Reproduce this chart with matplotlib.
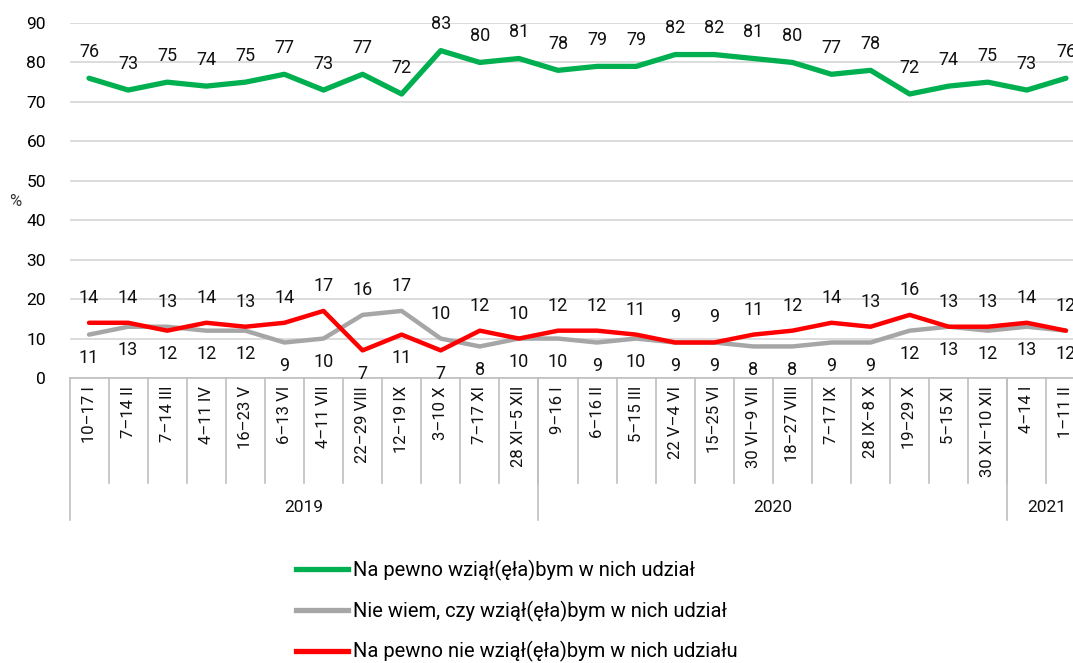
import matplotlib
matplotlib.use("Agg")
import matplotlib.pyplot as plt
from matplotlib.lines import Line2D
import matplotlib.transforms as mtransforms

categories = ["10–17 I", "7–14 II", "7–14 III", "4–11 IV", "16–23 V", "6–13 VI",
              "4–11 VII", "22–29 VIII", "12–19 IX", "3–10 X", "7–17 XI", "28 XI–5 XII",
              "9–16 I", "6–16 II", "5–15 III", "22 V–4 VI", "15–25 VI", "30 VI–9 VII",
              "18–27 VIII", "7–17 IX", "28 IX–8 X", "19–29 X", "5–15 XI", "30 XI–10 XII",
              "4–14 I", "1–11 II"]
years = ["2019", "2020", "2021"]
year_counts = [12, 12, 2]

yes_vals = [76, 73, 75, 74, 75, 77, 73, 77, 72, 83, 80, 81,
            78, 79, 79, 82, 82, 81, 80, 77, 78, 72, 74, 75, 73, 76]
dont_know = [11, 13, 13, 12, 12, 9, 10, 16, 17, 10, 8, 10,
             10, 9, 10, 9, 9, 8, 8, 9, 9, 12, 13, 12, 13, 12]
no_vals = [14, 14, 12, 14, 13, 14, 17, 7, 11, 7, 12, 10,
           12, 12, 11, 9, 9, 11, 12, 14, 13, 16, 13, 13, 14, 12]

labels = ["Na pewno wziął(ęła)bym w nich udział",
          "Nie wiem, czy wziął(ęła)bym w nich udział",
          "Na pewno nie wziął(ęła)bym w nich udziału"]

GREEN = "#00b050"
GREY = "#a6a6a6"
RED = "#ff0000"
COND = ["Roboto"]

W, H = 1073, 663
fig = plt.figure(figsize=(W / 100, H / 100), dpi=100)
left_px, right_px, top_px, bot_px = 69.5, 1085.5, 23, 378
ax = fig.add_axes([left_px / W, 1 - bot_px / H, (right_px - left_px) / W, (bot_px - top_px) / H])

x = list(range(len(categories)))
ax.plot(x, yes_vals, color=GREEN, lw=3.8, solid_capstyle="round", zorder=3)
ax.plot(x, dont_know, color=GREY, lw=3.2, solid_capstyle="round", zorder=3)
ax.plot(x, no_vals, color=RED, lw=3.2, solid_capstyle="round", zorder=4)

ax.set_xlim(-0.5, len(categories) - 0.5)
ax.set_ylim(0, 90)
ax.set_yticks(range(0, 91, 10))
ax.yaxis.grid(True, color="#d9d9d9", lw=1.3)
ax.set_axisbelow(True)
for s in ["left", "right", "top"]:
    ax.spines[s].set_visible(False)
ax.spines["bottom"].set_color("#bfbfbf")
ax.spines["bottom"].set_linewidth(1.2)
ax.tick_params(axis="y", length=0, pad=17, labelsize=12.5)
ax.tick_params(axis="x", length=0, labelbottom=False)
for t in ax.get_yticklabels():
    t.set_fontfamily(COND)

lab_kw = dict(fontsize=13, family=COND, ha="center", va="center", clip_on=False,
              color="#111111")
for i in x:
    ax.annotate(str(yes_vals[i]), (i, yes_vals[i]), xytext=(0, 19), textcoords="offset points",
                **lab_kw)
    hi = max(dont_know[i], no_vals[i])
    lo = min(dont_know[i], no_vals[i])
    ax.annotate(str(hi), (i, hi), xytext=(0, 18), textcoords="offset points", **lab_kw)
    ax.annotate(str(lo), (i, lo), xytext=(0, -17), textcoords="offset points", **lab_kw)

trans = mtransforms.blended_transform_factory(ax.transData, ax.transAxes)
axh = bot_px - top_px
y_inner = -(483 - bot_px) / axh
y_outer = -(520 - bot_px) / axh
y_cat = -(386 - bot_px) / axh
y_year = -(508 - bot_px) / axh

for i, c in enumerate(categories):
    ax.text(i, y_cat, c, transform=trans, rotation=90, ha="center", va="top",
            fontsize=12, family=COND, color="#111111")
for i in range(1, len(categories)):
    ax.add_line(Line2D([i - 0.5, i - 0.5], [0, y_inner], transform=trans,
                       color="#bfbfbf", lw=1.2, clip_on=False))
start = 0
bounds = [-0.5]
for yname, n in zip(years, year_counts):
    ax.text(start + (n - 1) / 2, y_year, yname, transform=trans, ha="center",
            va="center", fontsize=12.5, family=COND, color="#111111")
    start += n
    bounds.append(start - 0.5)
for b in bounds:
    ax.add_line(Line2D([b, b], [0, y_outer], transform=trans,
                       color="#bfbfbf", lw=1.2, clip_on=False))

fig.text(15 / W, 1 - 201 / H, "%", fontsize=12, family=COND, ha="center", va="center",
         color="#333333")

handles = [Line2D([], [], color=GREEN, lw=3.8),
           Line2D([], [], color=GREY, lw=3.8),
           Line2D([], [], color=RED, lw=3.8)]
fig.legend(handles, labels, loc="upper left", bbox_to_anchor=(296 / W, 1 - 560 / H),
           frameon=False, handlelength=2.6, handletextpad=0.25,
           labelspacing=0.97, borderpad=0, borderaxespad=0,
           prop={"family": "Roboto", "size": 14.5})

fig.savefig("out.png", dpi=100)
